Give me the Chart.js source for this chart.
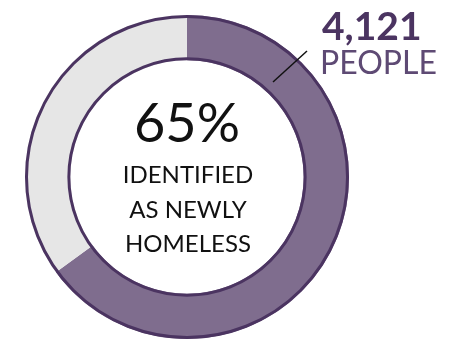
<!DOCTYPE html>
<html>
<head>
<meta charset="utf-8">
<script src="https://cdn.jsdelivr.net/npm/chart.js@4"></script>
<style>
  html, body { margin: 0; padding: 0; background: #fff; }
  #wrap { width: 455px; height: 343px; position: relative; }
</style>
</head>
<body>
<div id="wrap"><canvas id="donut-chart"></canvas></div>
<script>
// data
const labels = ['Newly homeless', 'Other'];
const shares = [65, 35];
const colors = ['#7f6d8e', '#e6e6e6'];
const centerLines = ['IDENTIFIED', 'AS NEWLY', 'HOMELESS'];
const headline = '65%';
const peopleCount = '4,121';
const peopleLabel = 'PEOPLE';

// outer + inner ring outline, and the labels
const ringText = {
  id: 'ringText',
  afterDatasetsDraw(chart) {
    const arc = chart.getDatasetMeta(0).data[0];
    if (!arc) return;
    const ctx = chart.ctx;
    const cx = arc.x, cy = arc.y;
    ctx.save();
    ctx.strokeStyle = '#4b3461';
    ctx.lineWidth = 3;
    ctx.beginPath();
    ctx.arc(cx, cy, arc.outerRadius - 1.5, 0, Math.PI * 2);
    ctx.stroke();
    ctx.beginPath();
    ctx.arc(cx, cy, arc.innerRadius + 1.5, 0, Math.PI * 2);
    ctx.stroke();

    ctx.textAlign = 'center';
    ctx.textBaseline = 'alphabetic';
    ctx.fillStyle = '#111';
    ctx.font = '400 54px Lato';
    ctx.fillText(headline, cx, cy - 35);
    ctx.font = '400 24px Lato';
    centerLines.forEach((t, i) => ctx.fillText(t, cx + 1, cy + 6 + i * 34.5));

    // leader line
    ctx.strokeStyle = '#111';
    ctx.lineWidth = 1.5;
    ctx.beginPath();
    ctx.moveTo(273, 82);
    ctx.lineTo(307, 51);
    ctx.stroke();

    ctx.textAlign = 'left';
    ctx.fillStyle = '#4b3461';
    ctx.font = '700 39px Lato';
    ctx.fillText(peopleCount, 322, 40);
    ctx.fillStyle = '#5e4a74';
    ctx.font = '400 32px Lato';
    ctx.fillText(peopleLabel, 320, 74);
    ctx.restore();
  }
};

new Chart(document.getElementById('donut-chart').getContext('2d'), {
  type: 'doughnut',
  data: {
    labels: labels,
    datasets: [{
      data: shares,
      backgroundColor: colors,
      borderWidth: 0,
      hoverOffset: 0
    }]
  },
  options: {
    responsive: true,
    maintainAspectRatio: false,
    animation: false,
    cutout: '72%',
    layout: {
      padding: { left: 25, right: 106, top: 15, bottom: 4 }
    },
    plugins: {
      legend: { display: false },
      tooltip: { enabled: false }
    }
  },
  plugins: [ringText]
});
</script>
</body>
</html>
